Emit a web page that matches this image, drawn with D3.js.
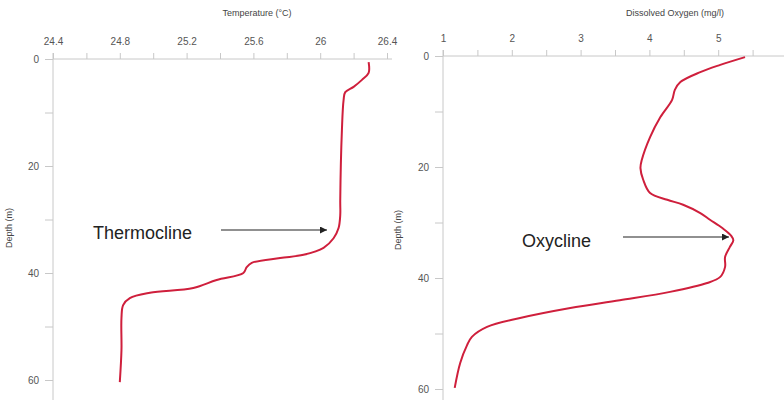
<!DOCTYPE html>
<html>
<head>
<meta charset="utf-8">
<script src="https://cdn.jsdelivr.net/npm/d3@7"></script>
<style>
  body { margin: 0; background: #fff; }
  svg { display: block; font-family: "Liberation Sans", Arial, sans-serif; }
  .axis path, .axis line { stroke: #c8c8c8; }
  .axis text { fill: #555; font-size: 10px; }
</style>
</head>
<body>
<svg width="784" height="400"></svg>
<script>
// temperature profile
var tempDepth = [0.6, 2.6, 3.9, 5.2, 6.2, 7.7, 13.3, 26.4, 29.2, 31.6, 33.5, 35.3, 36.6, 37.2, 38.1, 38.9, 40.0, 41.3, 42.8, 43.7, 44.7, 46.0, 48.4, 54.4, 60.4];
var tempValues = [26.29, 26.29, 26.25, 26.20, 26.15, 26.14, 26.13, 26.12, 26.12, 26.11, 26.08, 26.02, 25.90, 25.76, 25.59, 25.56, 25.54, 25.38, 25.24, 24.98, 24.86, 24.82, 24.81, 24.81, 24.80];
var tempTicks = [24.4, 24.8, 25.2, 25.6, 26, 26.4];

// dissolved oxygen profile
var doDepth = [0.2, 1.6, 2.9, 4.7, 6.1, 7.9, 11.0, 14.6, 18.7, 20.2, 22.3, 24.7, 25.9, 26.8, 28.3, 29.5, 31.0, 32.4, 33.2, 34.4, 36.2, 38.0, 39.8, 40.9, 42.5, 44.0, 45.4, 47.2, 48.8, 50.6, 52.1, 55.3, 59.8];
var doValues = [5.39, 5.03, 4.74, 4.45, 4.37, 4.33, 4.16, 4.01, 3.89, 3.87, 3.91, 4.01, 4.26, 4.49, 4.74, 4.88, 5.06, 5.19, 5.22, 5.17, 5.10, 5.10, 5.03, 4.84, 4.30, 3.57, 2.85, 2.12, 1.64, 1.42, 1.35, 1.25, 1.17];
var doTicks = [1, 2, 3, 4, 5];

var depthTicks = [0, 20, 40, 60];

var svg = d3.select("svg");

function panel(opt) {
    var g = svg.append("g");
    var x = d3.scaleLinear().domain(opt.xDomain).range(opt.xRange);
    var y = d3.scaleLinear().domain([0, 60]).range(opt.yRange);

    // top axis: minor ticks then labelled ticks
    g.append("g").attr("class", "axis")
        .attr("transform", "translate(0," + opt.yRange[0] + ")")
        .call(d3.axisTop(x).tickValues(opt.minor).tickSize(6).tickFormat("").tickSizeOuter(0))
        .call(function(s) { s.select(".domain").remove(); });
    var top = g.append("g").attr("class", "axis")
        .attr("transform", "translate(0," + opt.yRange[0] + ")")
        .call(d3.axisTop(x).tickValues(opt.ticks).tickSize(0).tickPadding(14).tickFormat(d3.format("")));
    top.select(".domain").attr("d", "M" + opt.xRange[0] + ",0H" + opt.axisEnd);

    // left axis
    g.append("g").attr("class", "axis")
        .attr("transform", "translate(" + opt.xRange[0] + ",0)")
        .call(d3.axisLeft(y).tickValues(d3.range(0, 61, 10)).tickSize(8).tickFormat("").tickSizeOuter(0))
        .call(function(s) { s.select(".domain").remove(); });
    var left = g.append("g").attr("class", "axis")
        .attr("transform", "translate(" + opt.xRange[0] + ",0)")
        .call(d3.axisLeft(y).tickValues(depthTicks).tickSize(0).tickPadding(14));
    left.select(".domain").attr("d", "M0," + (opt.yRange[0] - 6) + "V400");

    g.append("text")
        .attr("x", opt.titleX).attr("y", 16)
        .attr("text-anchor", "middle")
        .style("font-size", "9px").style("fill", "#444")
        .text(opt.title);

    g.append("text")
        .attr("transform", "translate(" + opt.depthX + "," + opt.depthY + ") rotate(-90)")
        .attr("text-anchor", "middle")
        .style("font-size", "9px").style("fill", "#444")
        .text("Depth (m)");

    var line = d3.line()
        .x(function(d, i) { return x(opt.values[i]); })
        .y(function(d) { return y(d); })
        .curve(d3.curveCatmullRom);
    g.append("path")
        .datum(opt.depth)
        .attr("d", line)
        .style("fill", "none")
        .style("stroke", "#cf1f3c")
        .style("stroke-width", 2);

    // annotation
    g.append("text")
        .attr("x", opt.label.x).attr("y", opt.label.y)
        .style("font-size", "18px").style("fill", "#222")
        .text(opt.label.text);
    g.append("line")
        .attr("x1", opt.arrow.x1).attr("x2", opt.arrow.x2)
        .attr("y1", opt.arrow.y).attr("y2", opt.arrow.y)
        .style("stroke", "#222").style("stroke-width", 1.2)
        .attr("marker-end", "url(#head)");
}

svg.append("defs").append("marker")
    .attr("id", "head")
    .attr("viewBox", "0 0 10 10")
    .attr("refX", 10).attr("refY", 5)
    .attr("markerWidth", 7).attr("markerHeight", 7)
    .attr("markerUnits", "userSpaceOnUse")
    .attr("orient", "auto")
    .append("path").attr("d", "M0,0L10,5L0,10Z").style("fill", "#222");

panel({
    xDomain: [24.4, 26.4], xRange: [53, 387], yRange: [59, 380], axisEnd: 392,
    ticks: tempTicks, minor: d3.range(24.4, 26.41, 0.2),
    values: tempValues, depth: tempDepth,
    title: "Temperature (°C)", titleX: 257,
    depthX: 12, depthY: 228,
    label: { text: "Thermocline", x: 93, y: 239 },
    arrow: { x1: 221, x2: 327, y: 230 }
});

panel({
    xDomain: [1, 6], xRange: [443, 787], yRange: [56, 389], axisEnd: 784,
    ticks: doTicks, minor: d3.range(1, 6.01, 0.5),
    values: doValues, depth: doDepth,
    title: "Dissolved Oxygen (mg/l)", titleX: 675,
    depthX: 401, depthY: 230,
    label: { text: "Oxycline", x: 522, y: 247 },
    arrow: { x1: 623, x2: 729, y: 237 }
});
</script>
</body>
</html>
